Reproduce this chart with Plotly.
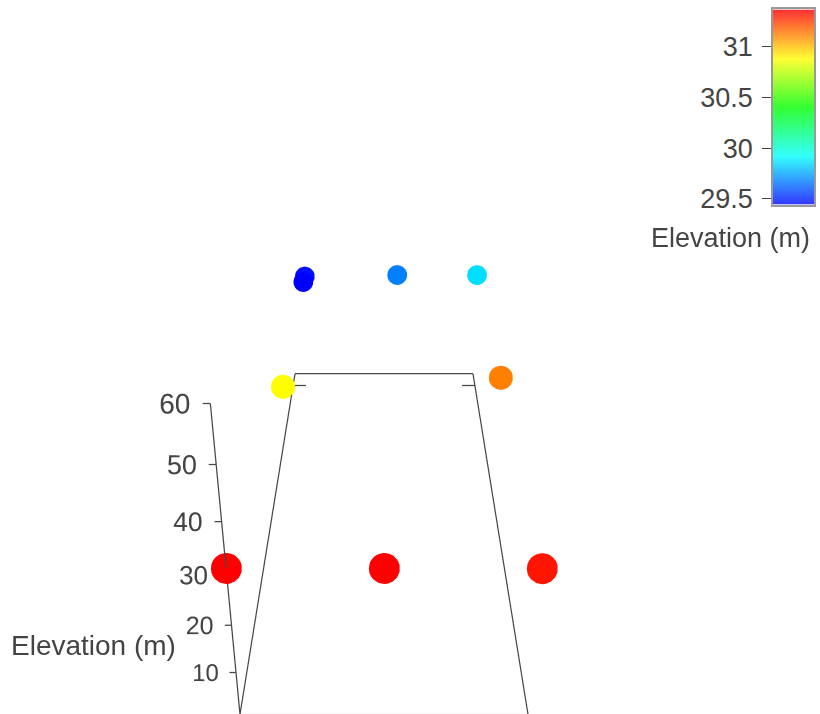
import numpy as np
import plotly.graph_objects as go

# sensor positions (m) and measured elevation (m)
x_pos = [0, 50, 100, 7.9, 7.6, 56.9, 99.2, 7.4, 99.7]
y_pos = [0, 0, 0, 98.6, 95.7, 99.0, 98.6, 48.2, 51.0]
elev = [31.37, 31.37, 31.33, 29.47, 29.44, 29.68, 29.86, 30.89, 31.13]
msize = [36, 36, 36, 23, 23, 23, 23, 28, 28]

x_lim = [0, 100]
y_lim = [0, 100]
z_ticks = [10, 20, 30, 40, 50, 60]
z_lim = [0.6, 60]
y_mark = 94.5
cb_ticks = [29.5, 30, 30.5, 31]
cmin, cmax = min(elev), max(elev)

cscale = [[0, 'rgb(0,0,255)'], [0.25, 'rgb(0,255,255)'], [0.5, 'rgb(0,255,0)'],
          [0.75, 'rgb(255,255,0)'], [1, 'rgb(255,0,0)']]
LINE = '#484848'
TXT = '#444'

fig = go.Figure()

# floor outline, corner marks, z axis line + ticks
lx, ly, lz = [], [], []
def seg(pts):
    for p in pts:
        lx.append(p[0]); ly.append(p[1]); lz.append(p[2])
    lx.append(None); ly.append(None); lz.append(None)
x0, x1 = x_lim; y0, y1 = y_lim; z0, z1 = z_lim
seg([(x0, y1, z0), (x1, y1, z0)])
seg([(x0, y1, z0), (x0, y0, z0)])
seg([(x1, y1, z0), (x1, y0, z0)])
seg([(x0, y_mark, z0), (x0 + 7, y_mark, z0)])
seg([(x1, y_mark, z0), (x1 - 7, y_mark, z0)])
seg([(x0, y0, z0), (x0, y0, z1)])
for t in z_ticks:
    seg([(x0, y0, t), (x0 - 2.2, y0, t)])
fig.add_trace(go.Scatter3d(x=lx, y=ly, z=lz, mode='lines', connectgaps=False,
                           line=dict(color=LINE, width=2.5), hoverinfo='skip'))
# near floor edge (lighter)
fig.add_trace(go.Scatter3d(x=[x0, x1], y=[y0, y0], z=[z0, z0], mode='lines',
                           line=dict(color='#c8c8c8', width=2), hoverinfo='skip'))

# z tick labels
fig.add_trace(go.Scatter3d(
    x=[x0 + 2] * len(z_ticks), y=[y0] * len(z_ticks), z=z_ticks, mode='text',
    text=[str(t) for t in z_ticks], textposition='middle left',
    textfont=dict(family='Arial', size=[24, 25, 26, 26.5, 27, 28], color=TXT), hoverinfo='skip'))

fig.add_trace(go.Scatter3d(
    x=x_pos, y=y_pos, z=elev, mode='markers',
    marker=dict(size=msize, color=elev, colorscale=cscale, cmin=cmin, cmax=cmax,
                opacity=1, line=dict(width=0), showscale=False)))

# colour bar drawn as a heatmap strip
levels = np.linspace(cmin, cmax, 120)
fig.add_trace(go.Heatmap(
    x=[0], y=levels, z=[[v] for v in levels], colorscale=cscale, zmin=cmin, zmax=cmax,
    showscale=False, opacity=0.8, zsmooth='best', xaxis='x2', yaxis='y2', hoverinfo='skip'))

H = 875
hidden = dict(visible=False, showgrid=False, showbackground=False, zeroline=False, showspikes=False)
fig.update_layout(
    width=820, height=H, margin=dict(l=0, r=0, t=0, b=0),
    paper_bgcolor='white', plot_bgcolor='white', showlegend=False,
    font=dict(family='Arial', size=20, color=TXT),
    xaxis2=dict(domain=[773 / 820, 814 / 820], anchor='y2', showticklabels=False, ticks='',
                showgrid=False, zeroline=False, showline=True, mirror=True, linecolor='#999', linewidth=1.5),
    yaxis2=dict(domain=[1 - 207 / H, 1 - 9.5 / H], anchor='x2', range=[cmin, cmax], tickvals=cb_ticks,
                ticktext=['29.5', '30', '30.5', '31'], ticks='outside', ticklen=9, tickcolor=TXT,
                ticklabelstandoff=4,
                side='left', showgrid=False, zeroline=False, showline=True, mirror=True,
                linecolor='#999', linewidth=1.5, tickfont=dict(size=27, color=TXT)),
    annotations=[dict(text='Elevation (m)', xref='paper', yref='paper', x=812 / 820, y=1 - 240 / H,
                      xanchor='right', yanchor='middle', showarrow=False,
                      font=dict(size=27, color=TXT, family='Arial')),
                 dict(text='Elevation (m)', xref='paper', yref='paper', x=93 / 820, y=1 - 652 / H,
                      xanchor='center', yanchor='middle', showarrow=False,
                      font=dict(size=28, color=TXT, family='Arial'))],
    scene=dict(
        domain=dict(x=[0, 768 / 820], y=[0, 1]),
        xaxis=dict(range=[-12, 112], **hidden),
        yaxis=dict(range=[-4, 104], **hidden),
        zaxis=dict(range=[-2, 62], **hidden),
        aspectmode='manual', aspectratio=dict(x=1.24, y=2.8094, z=1.32469),
        camera=dict(eye=dict(x=0, y=-3.9432, z=2.0644), center=dict(x=0, y=0, z=-0.2362),
                    up=dict(x=0, y=0, z=1), projection=dict(type='perspective')),
    ),
)
fig.write_html('out.html', post_script="document.documentElement.style.overflow='hidden';document.body.style.overflow='hidden';")
